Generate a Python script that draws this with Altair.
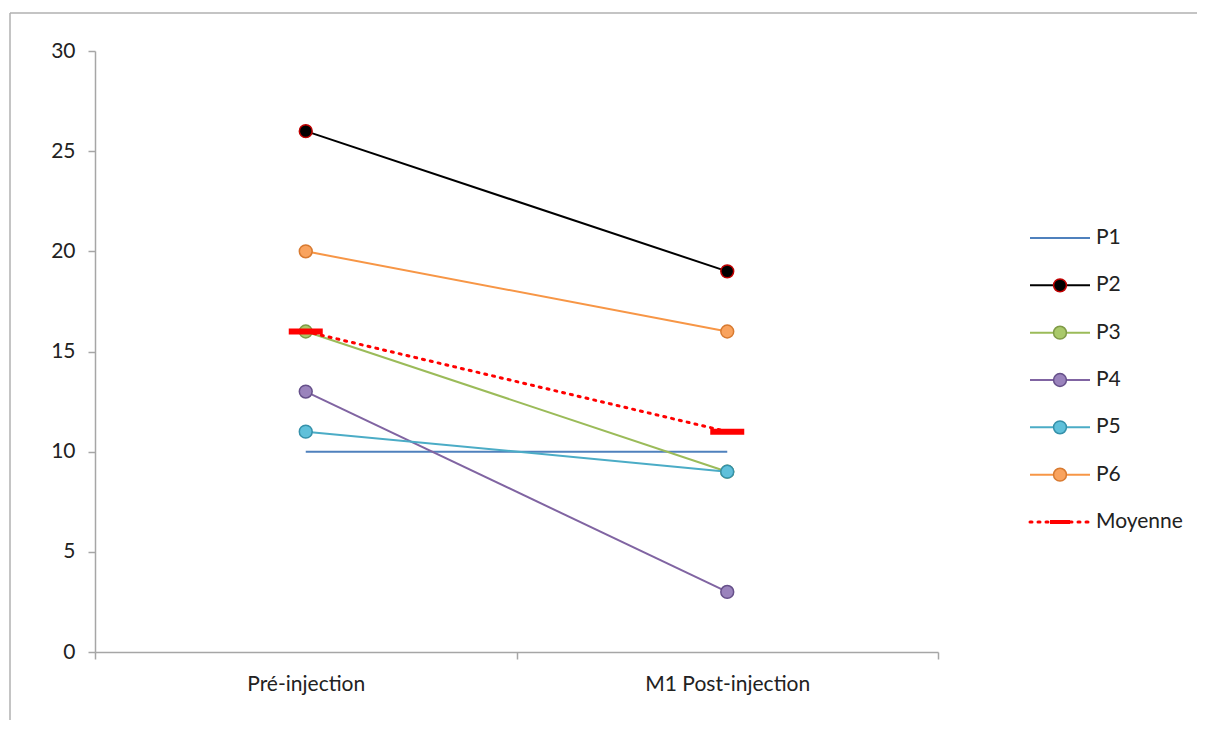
import altair as alt
import pandas as pd

phases = ["Pré-injection", "M1 Post-injection"]
series_names = ["P1", "P2", "P3", "P4", "P5", "P6", "Moyenne"]
p1 = [10, 10]
p2 = [26, 19]
p3 = [16, 9]
p4 = [13, 3]
p5 = [11, 9]
p6 = [20, 16]
moyenne = [16, 11]

line_colors = ["#4F81BD", "#000000", "#9BBB59", "#8064A2", "#4BACC6", "#F79646", "#FF0000"]
fill_colors = ["#4F81BD", "#000000", "#A9C96A", "#9A83BC", "#5FC0DA", "#F9A35E", "#FF0000"]
edge_colors = ["#3A6496", "#C00000", "#7F9A47", "#66508A", "#3591AA", "#D87A30", "#FF0000"]

rows = []
for name, vals in zip(series_names, [p1, p2, p3, p4, p5, p6, moyenne]):
    for ph, v in zip(phases, vals):
        rows.append({"series": name, "phase": ph, "value": v})
df = pd.DataFrame(rows)
legend_df = pd.DataFrame({"series": series_names})

FONT = "Lato"
FS = 21
W, H = 843, 601

xscale = alt.Scale(type="band", domain=phases, paddingInner=0, paddingOuter=0)
yscale = alt.Scale(domain=[0, 30])
cscale = alt.Scale(domain=series_names, range=line_colors)
fscale = alt.Scale(domain=series_names, range=fill_colors)
sscale = alt.Scale(domain=series_names, range=edge_colors)

x_axis = alt.Axis(title=None, labelAngle=0, tickBand="extent", labelPadding=14,
                  labelFontSize=FS, labelColor="#222", labelFont=FONT)
y_axis = alt.Axis(title=None, values=[0, 5, 10, 15, 20, 25, 30], labelPadding=13,
                  labelFontSize=FS, labelColor="#222", labelFont=FONT, grid=False)

base = alt.Chart(df)
xenc = alt.X("phase:N", scale=xscale, sort=phases, bandPosition=0.5)

solid_lines = base.transform_filter(alt.datum.series != "Moyenne").mark_line(strokeWidth=2).encode(
    x=alt.X("phase:N", scale=xscale, sort=phases, axis=x_axis, bandPosition=0.5),
    y=alt.Y("value:Q", scale=yscale, axis=y_axis),
    color=alt.Color("series:N", scale=cscale, legend=None),
    detail="series:N",
)

points = base.transform_filter(
    (alt.datum.series != "Moyenne") & (alt.datum.series != "P1")
).mark_point(shape="circle", filled=True, size=165, opacity=1, strokeWidth=1.5).encode(
    x=xenc,
    y=alt.Y("value:Q", scale=yscale, axis=None),
    fill=alt.Fill("series:N", scale=fscale, legend=None),
    stroke=alt.Stroke("series:N", scale=sscale, legend=None),
)

moy_line = base.transform_filter(alt.datum.series == "Moyenne").mark_line(
    strokeWidth=3, strokeDash=[2, 6], strokeCap="round"
).encode(
    x=xenc,
    y=alt.Y("value:Q", scale=yscale, axis=None),
    color=alt.Color("series:N", scale=cscale, legend=None),
)

moy_ticks = base.transform_filter(alt.datum.series == "Moyenne").mark_tick(
    size=34, thickness=6, color="#FF0000", opacity=1
).encode(
    x=alt.X("phase:N", scale=xscale, sort=phases),
    y=alt.Y("value:Q", scale=yscale, axis=None),
)

# Legend built from the series names through a point scale
ly = alt.Scale(type="point", domain=series_names, range=[187, 471], padding=0)
lbase = alt.Chart(legend_df)

leg_lines = lbase.transform_filter(alt.datum.series != "Moyenne").mark_rule(strokeWidth=2).encode(
    x=alt.value(935), x2=alt.value(995),
    y=alt.Y("series:N", scale=ly, axis=None),
    color=alt.Color("series:N", scale=cscale, legend=None),
)
leg_moy_line = lbase.transform_filter(alt.datum.series == "Moyenne").mark_rule(
    strokeWidth=3, strokeDash=[2, 6], strokeCap="round").encode(
    x=alt.value(935), x2=alt.value(995),
    y=alt.Y("series:N", scale=ly, axis=None),
    color=alt.Color("series:N", scale=cscale, legend=None),
)
leg_points = lbase.transform_filter(
    (alt.datum.series != "Moyenne") & (alt.datum.series != "P1")
).mark_point(shape="circle", filled=True, size=165, opacity=1, strokeWidth=1.5).encode(
    x=alt.value(965),
    y=alt.Y("series:N", scale=ly, axis=None),
    fill=alt.Fill("series:N", scale=fscale, legend=None),
    stroke=alt.Stroke("series:N", scale=sscale, legend=None),
)
leg_moy_tick = lbase.transform_filter(alt.datum.series == "Moyenne").mark_rule(
    strokeWidth=4, color="#FF0000").encode(
    x=alt.value(955), x2=alt.value(975),
    y=alt.Y("series:N", scale=ly, axis=None),
)
leg_text = lbase.mark_text(align="left", baseline="middle", font=FONT, fontSize=FS, color="#222").encode(
    x=alt.value(1001),
    y=alt.Y("series:N", scale=ly, axis=None),
    text="series:N",
)

frame_top = alt.Chart(legend_df.head(1)).mark_rule(color="#B0B0B0", strokeWidth=1.5).encode(
    x=alt.value(-85), x2=alt.value(1120), y=alt.value(-38))
frame_left = alt.Chart(legend_df.head(1)).mark_rule(color="#B0B0B0", strokeWidth=1.5).encode(
    x=alt.value(-85), y=alt.value(-38), y2=alt.value(730))

chart = alt.layer(
    solid_lines, points, moy_line, moy_ticks,
    leg_lines, leg_moy_line, leg_points, leg_moy_tick, leg_text,
    frame_top, frame_left,
).resolve_scale(y="independent").properties(
    width=W, height=H,
    padding={"left": 87, "top": 43, "right": 259, "bottom": 68},
    autosize=alt.AutoSizeParams(type="none"),
    background="white",
).configure_view(stroke=None).configure_axis(
    domainColor="#A6A6A6", domainWidth=1.5, tickColor="#A6A6A6", tickWidth=1.5, tickSize=7,
)

chart.save("out.html", embed_options={"renderer": "svg", "actions": False})
